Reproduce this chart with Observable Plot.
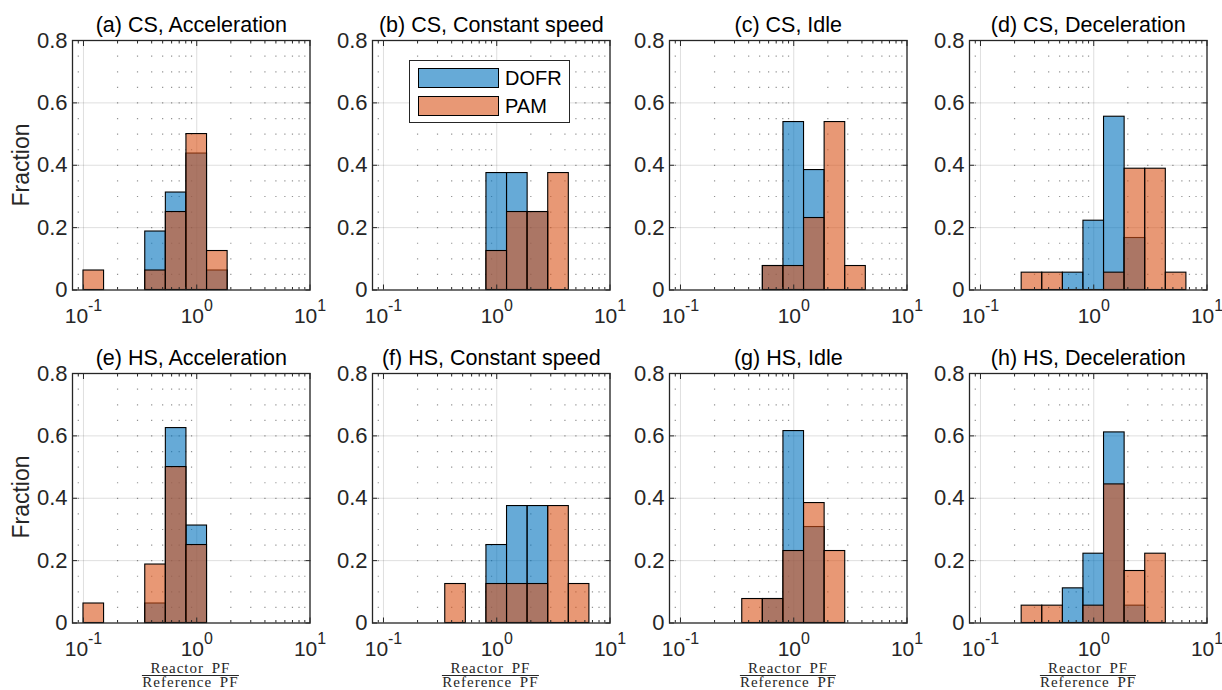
<!DOCTYPE html>
<html>
<head>
<meta charset="utf-8">
<script src="https://cdn.jsdelivr.net/npm/d3@7"></script>
<script src="https://cdn.jsdelivr.net/npm/@observablehq/plot@0.6"></script>
<style>
html, body { margin: 0; padding: 0; background: #fff; }
#root { position: relative; width: 1222px; height: 690px; overflow: hidden;
  font-family: "Liberation Sans", Arial, Helvetica, sans-serif; }
.panel { position: absolute; }
.ylab { position: absolute; font-size: 23px; color: #262626; white-space: nowrap;
  transform: translate(-50%, -50%) rotate(-90deg); }
.xlab { position: absolute; transform: translateX(-50%); text-align: center;
  font-family: "Liberation Serif", "Times New Roman", serif; font-size: 15px; color: #262626;
  letter-spacing: 1px; word-spacing: 3px; }
.xlab .num { line-height: 14px; border-bottom: 1px solid #262626; padding: 0 1px; }
.xlab .den { line-height: 12px; }
.legend { position: absolute; background: #fff; border: 1px solid #262626; box-sizing: border-box; }
.legend .sw { position: absolute; border: 1px solid #000; box-sizing: border-box; }
.legend .lt { position: absolute; font-size: 20px; color: #000; line-height: 20px; }
</style>
</head>
<body>
<div id="root"></div>
<script>
// ---------------- data ----------------
const binEdges = [0.1, 0.1520, 0.2310, 0.3511, 0.5337, 0.8111, 1.2328, 1.8738, 2.8480, 4.3288, 6.5793, 10];
const panelTitles = [
  "(a) CS, Acceleration", "(b) CS, Constant speed", "(c) CS, Idle", "(d) CS, Deceleration",
  "(e) HS, Acceleration", "(f) HS, Constant speed", "(g) HS, Idle", "(h) HS, Deceleration"
];
const seriesNames = ["DOFR", "PAM"];
const seriesColors = ["#0072BD", "#D95319"];

// fraction per bin (11 bins) for each panel
const dofrA = [0, 0, 0, 0.1875, 0.3125, 0.4375, 0.0625, 0, 0, 0, 0];
const pamA  = [0.0625, 0, 0, 0.0625, 0.25, 0.5, 0.125, 0, 0, 0, 0];
const dofrB = [0, 0, 0, 0, 0, 0.375, 0.375, 0.25, 0, 0, 0];
const pamB  = [0, 0, 0, 0, 0, 0.125, 0.25, 0.25, 0.375, 0, 0];
const dofrC = [0, 0, 0, 0, 0.0769, 0.5385, 0.3846, 0, 0, 0, 0];
const pamC  = [0, 0, 0, 0, 0.0769, 0.0769, 0.2308, 0.5385, 0.0769, 0, 0];
const dofrD = [0, 0, 0, 0, 0.0556, 0.2222, 0.5556, 0.1667, 0, 0, 0];
const pamD  = [0, 0, 0.0556, 0.0556, 0, 0, 0.0556, 0.3889, 0.3889, 0.0556, 0];
const dofrE = [0, 0, 0, 0.0625, 0.625, 0.3125, 0, 0, 0, 0, 0];
const pamE  = [0.0625, 0, 0, 0.1875, 0.5, 0.25, 0, 0, 0, 0, 0];
const dofrF = [0, 0, 0, 0, 0, 0.25, 0.375, 0.375, 0, 0, 0];
const pamF  = [0, 0, 0, 0.125, 0, 0.125, 0.125, 0.125, 0.375, 0.125, 0];
const dofrG = [0, 0, 0, 0, 0.0769, 0.6154, 0.3077, 0, 0, 0, 0];
const pamG  = [0, 0, 0, 0.0769, 0.0769, 0.2308, 0.3846, 0.2308, 0, 0, 0];
const dofrH = [0, 0, 0, 0, 0.1111, 0.2222, 0.6111, 0.0556, 0, 0, 0];
const pamH  = [0, 0, 0.0556, 0.0556, 0, 0.0556, 0.4444, 0.1667, 0.2222, 0, 0];

const dofrSeries = [dofrA, dofrB, dofrC, dofrD, dofrE, dofrF, dofrG, dofrH];
const pamSeries  = [pamA, pamB, pamC, pamD, pamE, pamF, pamG, pamH];

const xDomain = [0.08, 10];
const yDomain = [0, 0.8];
const xMajorTicks = [0.1, 1, 10];
const xTickLabels = ["10^-1", "10^0", "10^1"];
const xMinorTicks = [0.09, 0.2, 0.3, 0.4, 0.5, 0.6, 0.7, 0.8, 0.9, 2, 3, 4, 5, 6, 7, 8, 9];
const yTicks = [0, 0.2, 0.4, 0.6, 0.8];
const yGridTicks = [0.2, 0.4, 0.6];
const yAxisLabel = "Fraction";
const xLabelNum = "Reactor PF";
const xLabelDen = "Reference PF";

// ---------------- layout ----------------
const colLeft = [71.7, 371.7, 669.3, 969.3];
const rowTop = [40, 372.6];
const axW = 237.5, axH = 249.5;
const ML = 70, MR = 14, MT = 40, MB = 44;

const root = document.getElementById("root");
const ink = "#262626";
const labelFor = new Map(xMajorTicks.map((t, i) => [t, xTickLabels[i]]));

function rowsFor(values) {
  return values.map((v, i) => ({x1: binEdges[i], x2: binEdges[i + 1], y: v})).filter(d => d.y > 0);
}

for (let p = 0; p < 8; p++) {
  const r = Math.floor(p / 4), c = p % 4;
  const chart = Plot.plot({
    width: ML + axW + MR,
    height: MT + axH + MB,
    marginLeft: ML, marginRight: MR, marginTop: MT, marginBottom: MB,
    x: {type: "log", domain: xDomain},
    y: {domain: yDomain},
    style: {fontFamily: '"Liberation Sans", Arial, Helvetica, sans-serif', fontSize: "21px",
            color: ink, background: "transparent", overflow: "visible"},
    marks: [
      Plot.gridY({ticks: yGridTicks, stroke: ink, strokeOpacity: 0.15, strokeWidth: 1}),
      Plot.gridX({ticks: xMajorTicks, stroke: ink, strokeOpacity: 0.15, strokeWidth: 1}),
      Plot.gridX({ticks: xMinorTicks, stroke: ink, strokeOpacity: 0.5, strokeWidth: 1.2,
                  strokeDasharray: "1.2 14.39"}),
      Plot.rectY(rowsFor(dofrSeries[p]), {x1: "x1", x2: "x2", y: "y", fill: seriesColors[0],
                  fillOpacity: 0.6, stroke: "#000", strokeWidth: 1.1}),
      Plot.rectY(rowsFor(pamSeries[p]), {x1: "x1", x2: "x2", y: "y", fill: seriesColors[1],
                  fillOpacity: 0.6, stroke: "#000", strokeWidth: 1.1}),
      Plot.frame({stroke: ink, strokeWidth: 1.3}),
      Plot.axisY({ticks: yTicks, tickSize: -5, tickPadding: 10, label: null, fontSize: 22,
                  tickFormat: d => d === 0 ? "0" : d.toFixed(1)}),
      Plot.axisY({anchor: "right", ticks: yTicks, tickSize: -5, label: null, tickFormat: () => ""}),
      Plot.axisX({ticks: xMajorTicks, tickSize: -5, tickPadding: 23, label: null, fontSize: 21,
                  tickFormat: d => labelFor.get(d)}),
      Plot.axisX({ticks: xMinorTicks, tickSize: -2.5, label: null, tickFormat: () => ""}),
      Plot.axisX({anchor: "top", ticks: xMajorTicks, tickSize: -5, label: null, tickFormat: () => ""}),
      Plot.axisX({anchor: "top", ticks: xMinorTicks, tickSize: -2.5, label: null, tickFormat: () => ""}),
      Plot.text([panelTitles[p]], {text: d => d, frameAnchor: "top", lineAnchor: "bottom",
                  dy: -9, fontSize: 21.5, fill: "#000"})
    ]
  });
  // superscript exponents for the log tick labels
  chart.querySelectorAll("text").forEach(t => {
    const s = t.textContent;
    if (s && s.includes("^")) {
      const [base, exp] = s.split("^");
      t.textContent = base;
      const ts = document.createElementNS("http://www.w3.org/2000/svg", "tspan");
      ts.setAttribute("dy", "-0.75em");
      ts.setAttribute("font-size", "76%");
      ts.textContent = exp;
      t.appendChild(ts);
    }
  });
  const wrap = document.createElement("div");
  wrap.className = "panel";
  wrap.style.left = (colLeft[c] - ML) + "px";
  wrap.style.top = (rowTop[r] - MT) + "px";
  wrap.appendChild(chart);
  root.appendChild(wrap);

  if (c === 0) {
    const yl = document.createElement("div");
    yl.className = "ylab";
    yl.textContent = yAxisLabel;
    yl.style.left = "21px";
    yl.style.top = (rowTop[r] + axH / 2) + "px";
    root.appendChild(yl);
  }
  if (r === 1) {
    const xl = document.createElement("div");
    xl.className = "xlab";
    xl.style.left = (colLeft[c] + axW / 2) + "px";
    xl.style.top = "661.4px";
    const num = document.createElement("div");
    num.className = "num"; num.textContent = xLabelNum;
    const den = document.createElement("div");
    den.className = "den"; den.textContent = xLabelDen;
    xl.appendChild(num); xl.appendChild(den);
    root.appendChild(xl);
  }
}

// legend (in panel b)
const lg = document.createElement("div");
lg.className = "legend";
Object.assign(lg.style, {left: "409px", top: "60px", width: "161px", height: "63px"});
seriesNames.forEach((name, i) => {
  const sw = document.createElement("div");
  sw.className = "sw";
  const rgb = d3.rgb(seriesColors[i]);
  Object.assign(sw.style, {left: "7.5px", top: (7 + i * 28) + "px", width: "81px", height: "20px",
    background: `rgba(${rgb.r},${rgb.g},${rgb.b},0.6)`});
  const lt = document.createElement("div");
  lt.className = "lt";
  lt.textContent = name;
  Object.assign(lt.style, {left: "95px", top: (7 + i * 28) + "px"});
  lg.appendChild(sw); lg.appendChild(lt);
});
root.appendChild(lg);
</script>
</body>
</html>
